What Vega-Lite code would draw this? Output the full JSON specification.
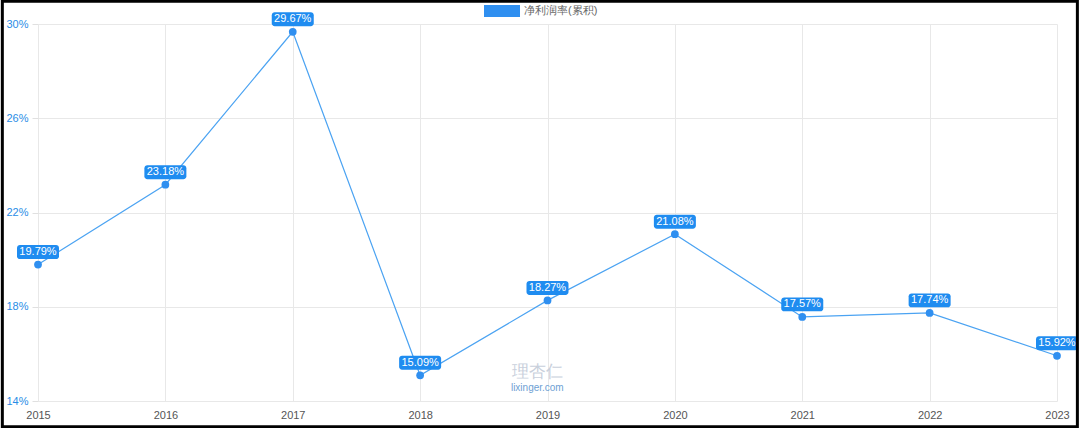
{
  "$schema": "https://vega.github.io/schema/vega-lite/v6.json",
  "width": 1019,
  "height": 377,
  "autosize": {"type": "none"},
  "padding": {"left": 38, "top": 24, "right": 23, "bottom": 27},
  "background": "white",
  "config": {
    "view": {"stroke": null},
    "font": "Liberation Sans",
    "axis": {"gridColor": "#e8e8e8", "domain": false, "tickColor": "#e0e0e0", "labelFont": "Liberation Sans", "labelFontSize": 11}
  },
  "datasets": {
    "main": [
      {"year": 2015, "value": 19.79, "label": "19.79%", "series": "净利润率(累积)"},
      {"year": 2016, "value": 23.18, "label": "23.18%", "series": "净利润率(累积)"},
      {"year": 2017, "value": 29.67, "label": "29.67%", "series": "净利润率(累积)"},
      {"year": 2018, "value": 15.09, "label": "15.09%", "series": "净利润率(累积)"},
      {"year": 2019, "value": 18.27, "label": "18.27%", "series": "净利润率(累积)"},
      {"year": 2020, "value": 21.08, "label": "21.08%", "series": "净利润率(累积)"},
      {"year": 2021, "value": 17.57, "label": "17.57%", "series": "净利润率(累积)"},
      {"year": 2022, "value": 17.74, "label": "17.74%", "series": "净利润率(累积)"},
      {"year": 2023, "value": 15.92, "label": "15.92%", "series": "净利润率(累积)"}
    ],
    "wm": [
      {"x": 2018.92, "y": 15.25, "t": "理杏仁", "k": "logo"},
      {"x": 2018.92, "y": 14.55, "t": "lixinger.com", "k": "url"}
    ],
    "frame": [
      {"x1": 2014.72, "x2": 2023.16, "y1": 12.91, "y2": 30.97}
    ]
  },
  "layer": [
    {
      "data": {"name": "main"},
      "mark": {"type": "line", "color": "#4ba3f2", "strokeWidth": 1.2},
      "encoding": {
        "x": {"field": "year", "type": "quantitative", "scale": {"domain": [2015, 2023], "nice": false, "zero": false},
              "axis": {"values": [2015,2016,2017,2018,2019,2020,2021,2022,2023], "format": "d", "title": null, "labelColor": "#555555", "tickSize": 0, "labelPadding": 8, "labelFlush": false}},
        "y": {"field": "value", "type": "quantitative", "scale": {"domain": [14, 30], "nice": false, "zero": false},
              "axis": {"values": [14, 18, 22, 26, 30], "labelExpr": "datum.value + '%'", "title": null, "labelColor": "#2a8de6", "tickSize": 6, "labelPadding": 4}}
      }
    },
    {
      "data": {"name": "main"},
      "mark": {"type": "point", "filled": true, "size": 60, "opacity": 1},
      "encoding": {
        "x": {"field": "year", "type": "quantitative"},
        "y": {"field": "value", "type": "quantitative"},
        "color": {"field": "series", "type": "nominal", "scale": {"range": ["#2f8ff0"]},
          "legend": {"title": null, "orient": "none", "legendX": 446, "legendY": -31, "padding": 0,
            "symbolType": "M-1,-0.33L1,-0.33L1,0.33L-1,0.33Z", "symbolSize": 1296, "symbolStrokeWidth": 0,
            "symbolOpacity": 1, "labelColor": "#666666", "labelFontSize": 11, "labelOffset": 4, "labelFont": "Liberation Sans"}}
      }
    },
    {
      "data": {"name": "main"},
      "mark": {"type": "point", "filled": true, "size": 1764, "opacity": 1, "color": "#1f8cf0", "yOffset": -12.5,
        "shape": "M-0.86,-0.333L0.86,-0.333A0.14,0.14 0 0 1 1,-0.193L1,0.193A0.14,0.14 0 0 1 0.86,0.333L-0.86,0.333A0.14,0.14 0 0 1 -1,0.193L-1,-0.193A0.14,0.14 0 0 1 -0.86,-0.333Z"},
      "encoding": {
        "x": {"field": "year", "type": "quantitative"},
        "y": {"field": "value", "type": "quantitative"}
      }
    },
    {
      "data": {"name": "main"},
      "mark": {"type": "text", "color": "white", "fontSize": 11, "dy": -12.5, "baseline": "middle", "align": "center"},
      "encoding": {
        "x": {"field": "year", "type": "quantitative"},
        "y": {"field": "value", "type": "quantitative"},
        "text": {"field": "label", "type": "nominal"}
      }
    },
    {
      "data": {"name": "wm"},
      "mark": {"type": "text", "baseline": "middle", "align": "center"},
      "encoding": {
        "x": {"field": "x", "type": "quantitative"},
        "y": {"field": "y", "type": "quantitative"},
        "text": {"field": "t"},
        "size": {"field": "k", "type": "nominal", "scale": {"domain": ["logo", "url"], "range": [17, 10]}, "legend": null},
        "color": {"field": "k", "type": "nominal", "scale": {"domain": ["logo", "url"], "range": ["#c9d0dc", "#6f9fd4"]}, "legend": null}
      }
    },
    {
      "data": {"name": "frame"},
      "mark": {"type": "rect", "fill": null, "stroke": "black", "strokeWidth": 3, "clip": false},
      "encoding": {
        "x": {"field": "x1", "type": "quantitative"},
        "x2": {"field": "x2"},
        "y": {"field": "y1", "type": "quantitative"},
        "y2": {"field": "y2"}
      }
    }
  ],
  "resolve": {"scale": {"color": "independent", "size": "independent"}}
}
